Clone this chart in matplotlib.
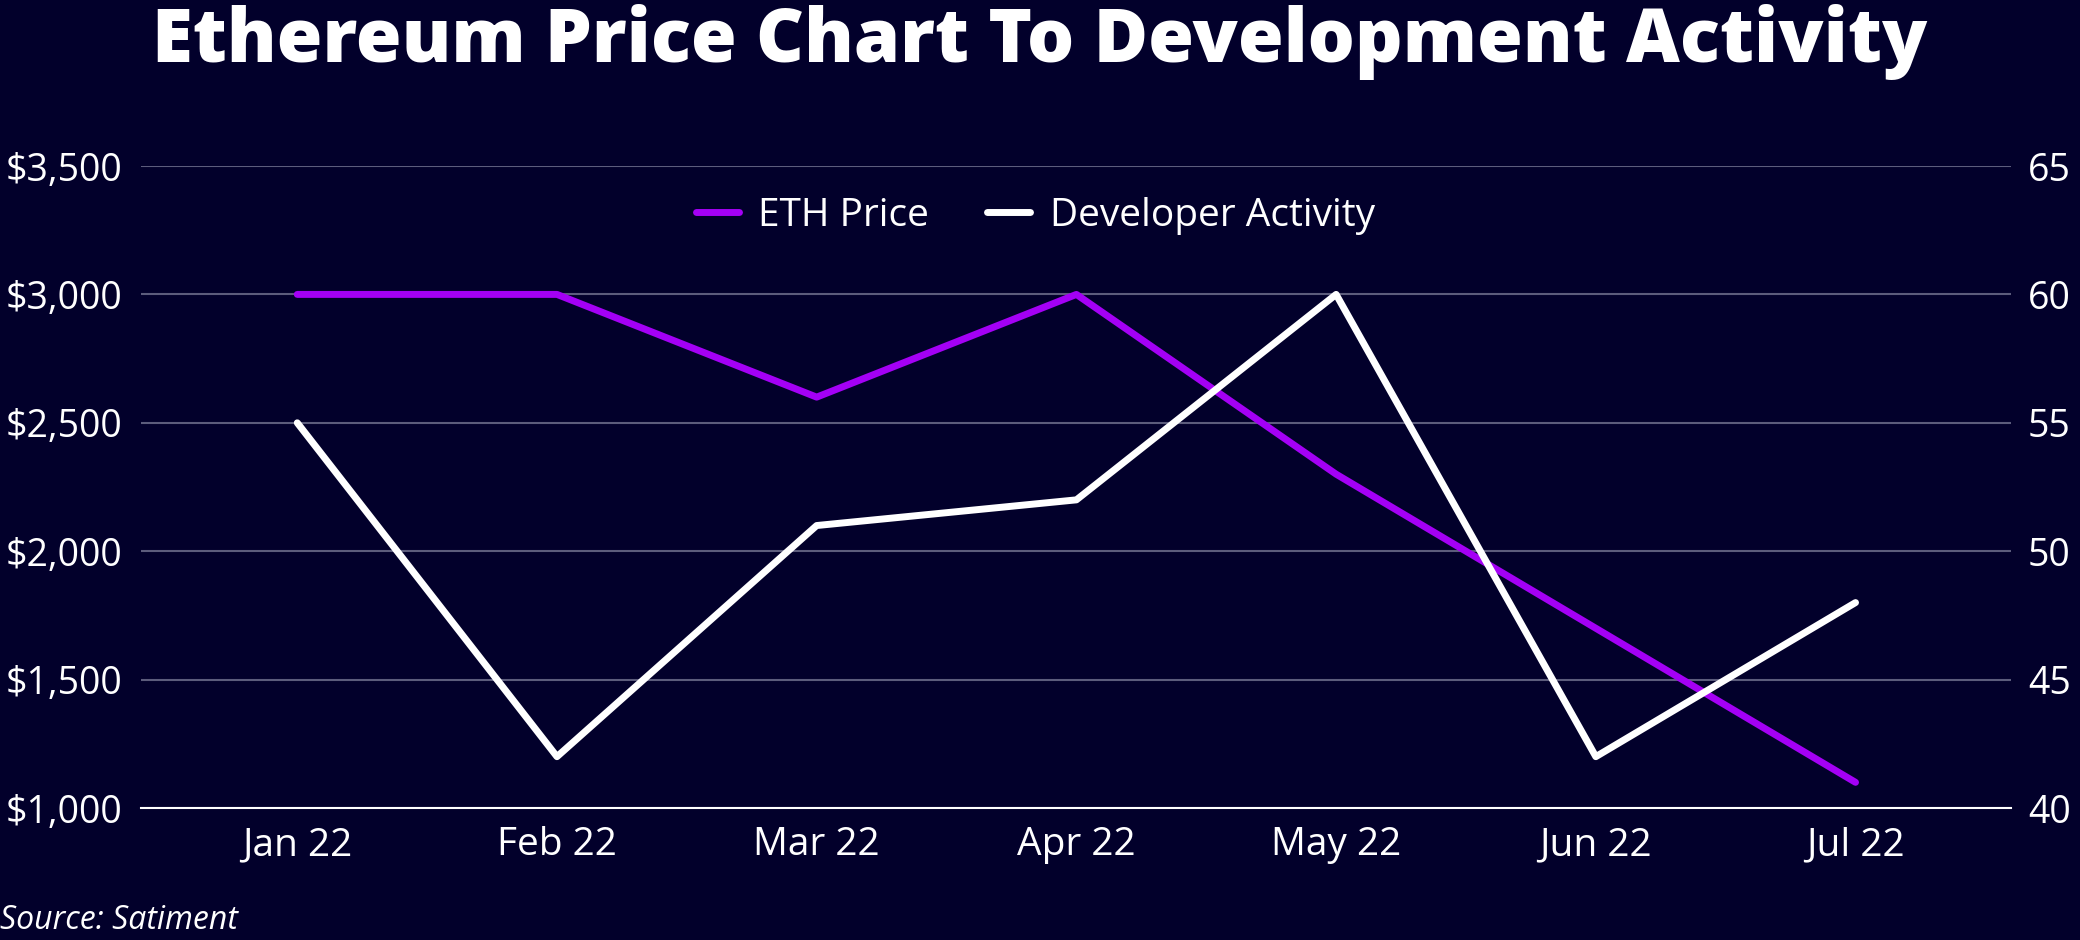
import matplotlib.pyplot as plt

# Data
months = ["Jan 22", "Feb 22", "Mar 22", "Apr 22", "May 22", "Jun 22", "Jul 22"]
eth_price = [3000, 3000, 2600, 3000, 2300, 1700, 1100]
dev_activity = [55, 42, 51, 52, 60, 42, 48]

bg = "#02002b"
purple = "#a400f5"
grid_col = "#5c5c7c"

plt.rcParams['font.family'] = ['Open Sans', 'DejaVu Sans']

fig = plt.figure(figsize=(20.8, 9.4), dpi=100, facecolor=bg)
ax = fig.add_axes([0.068, 0.1404, 0.899, 0.683])
ax.set_facecolor(bg)
ax2 = ax.twinx()

x = list(range(len(months)))
l1, = ax.plot(x, eth_price, color=purple, lw=5, solid_capstyle='round', label='ETH Price', zorder=3)
l2, = ax2.plot(x, dev_activity, color='white', lw=5, solid_capstyle='round', label='Developer Activity', zorder=3)

ax.set_xlim(-0.6, 6.6)
ax.set_ylim(1000, 3500)
ax2.set_ylim(40, 65)
ax.set_yticks(range(1000, 3501, 500))
ax.set_yticklabels([f"${v:,}" for v in range(1000, 3501, 500)])
ax2.set_yticks(range(40, 66, 5))
ax.set_xticks(x)
ax.set_xticklabels(months)

ax.grid(axis='y', color=grid_col, lw=1.5)
ax.set_axisbelow(True)
for a in (ax, ax2):
    for s in a.spines.values():
        s.set_visible(False)
    a.tick_params(length=0, colors='white', labelsize=27)
ax.tick_params(axis='x', labelsize=28, pad=13)
ax.spines['bottom'].set_visible(True)
ax.spines['bottom'].set_color('white')
ax.spines['bottom'].set_linewidth(1.5)
ax.tick_params(axis='y', pad=14)
ax2.tick_params(axis='y', pad=12)

leg = ax.legend(handles=[l1, l2], loc='center', bbox_to_anchor=(0.478, 0.922), ncol=2,
                frameon=False, fontsize=28, handlelength=1.1, handletextpad=0.5,
                columnspacing=1.5)
for t in leg.get_texts():
    t.set_color('white')

fig.text(0.5, 0.934, "Ethereum Price Chart To Development Activity", ha='center', va='baseline',
         color='white', fontsize=53.5, fontweight='heavy')
fig.text(0.0, 0.021, "Source: Satiment", ha='left', va='center', color='white',
         fontsize=23, style='italic')

fig.savefig("out.png", dpi=100, facecolor=bg)
